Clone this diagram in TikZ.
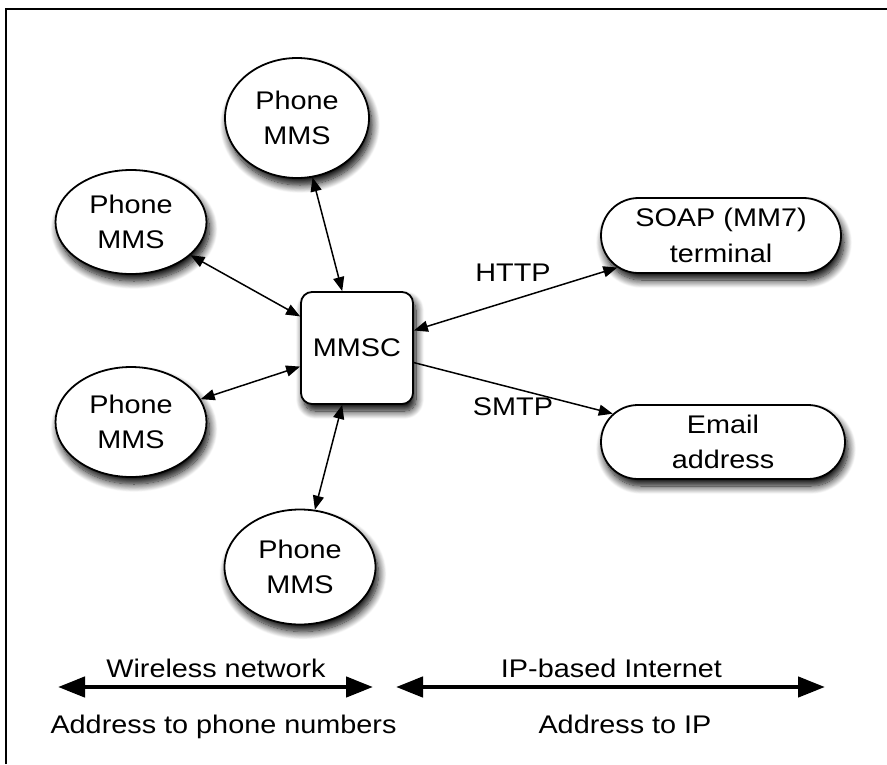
\documentclass[tikz,border=0pt]{standalone}
\usepackage{fontspec}
\setmainfont{Liberation Sans}[FakeStretch=1.13]
\usetikzlibrary{arrows.meta,shapes.geometric,shapes.misc,shadows.blur}

\begin{document}
\begin{tikzpicture}[x=1pt,y=-1pt,
  every node/.style={font=\fontsize{25.5}{35.5}\selectfont, inner sep=0pt},
  softshadow/.style={blur shadow={shadow xshift=3pt,shadow yshift=-7pt,
      shadow blur radius=8pt,shadow blur steps=12,shadow opacity=100}},
  phone/.style={ellipse, draw, line width=1.8pt, fill=white, align=center, softshadow},
  hub/.style={rectangle, draw, line width=1.8pt, fill=white, rounded corners=11pt,
      minimum size=112pt, softshadow},
  endpoint/.style={rounded rectangle, draw, line width=1.8pt, fill=white, align=center,
      minimum height=75pt, softshadow},
  link/.style={line width=1.5pt, {Triangle[length=14pt,width=11pt]}-{Triangle[length=14pt,width=11pt]}},
  oneway/.style={line width=1.5pt, -{Triangle[length=14pt,width=11pt]}},
  span/.style={line width=4.5pt, {Triangle[length=27pt,width=20pt]}-{Triangle[length=27pt,width=20pt]}},
  caption/.style={anchor=base}
]
\useasboundingbox (0,0) rectangle (887,764);

% frame
\draw[line width=2pt] (6.3,764) -- (6.3,9.3) -- (887,9.3);

% handsets
\node[phone, minimum width=144pt, minimum height=120pt] (ptop) at (297,118) {Phone\\MMS};
\node[phone, minimum width=151pt, minimum height=104pt] (pul) at (131,222) {Phone\\MMS};
\node[phone, minimum width=151pt, minimum height=110pt] (pll) at (131,422) {Phone\\MMS};
\node[phone, minimum width=151pt, minimum height=115pt] (pbot) at (300,567) {Phone\\MMS};

% service centre
\node[hub] (mmsc) at (357,348) {MMSC};

% internet side
\node[endpoint, minimum width=240pt] (soap) at (721,235.5) {SOAP (MM7)\\terminal};
\node[endpoint, minimum width=244pt, minimum height=74pt] (mail) at (723,442) {Email\\address};

% connectors
\draw[link] (ptop) -- (mmsc);
\draw[link] (pul) -- (mmsc);
\draw[link] (pll) -- (mmsc);
\draw[link] (pbot) -- (mmsc);
\draw[link] (mmsc) -- (soap);
\draw[oneway] (mmsc) -- (mail);

\node[caption] (http) at (513,281) {HTTP};
\node[caption] (smtp) at (513,415) {SMTP};

% network extents
\coordinate (wl) at (58,687);
\coordinate (wr) at (373,687);
\coordinate (il) at (396,687);
\coordinate (ir) at (825,687);
\draw[span] (wl) -- (wr);
\draw[span] (il) -- (ir);

\node[caption] (wlabel) at (216,677) {Wireless network};
\node[caption] (ilabel) at (611.5,677) {IP-based Internet};
\node[caption] (waddr) at (223.5,733) {Address to phone numbers};
\node[caption] (iaddr) at (625,733) {Address to IP};
\end{tikzpicture}
\end{document}
